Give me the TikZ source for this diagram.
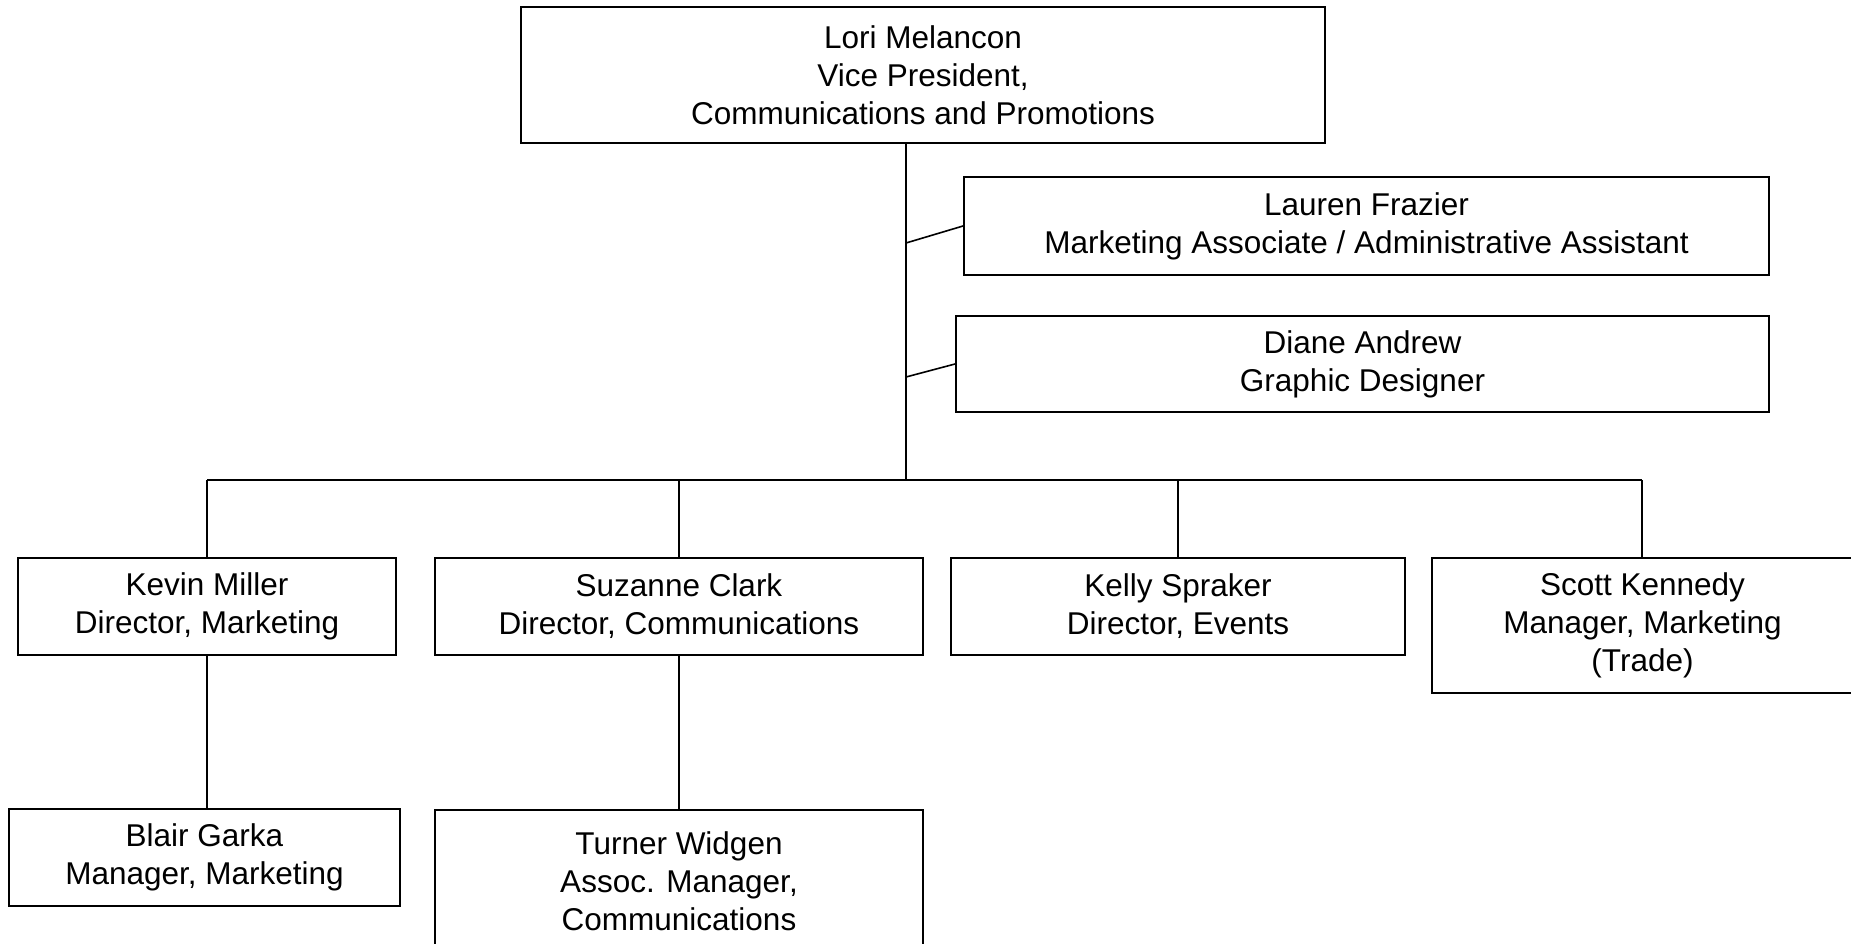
\documentclass[tikz,border=0pt]{standalone}
\usepackage{fontspec}
\setmainfont{Liberation Sans}
\begin{document}
\begin{tikzpicture}[x=1pt,y=-1pt,
  person/.style={draw=black, line width=2pt, rectangle, inner sep=0pt, align=center,
    font=\fontsize{31.5}{38}\selectfont, text=black},
  link/.style={draw=black, line width=1.6pt}]
\useasboundingbox (0,0) rectangle (1851,944);
% boxes
\node[person, minimum width=804pt, minimum height=136pt] (lori) at (923,75) {Lori Melancon\\Vice President,\\Communications and Promotions};
\node[person, minimum width=805pt, minimum height=97pt] (lauren) at (1366.5,226) {Lauren Frazier\\Marketing Associate / Administrative Assistant};
\node[person, minimum width=813pt, minimum height=96pt] (diane) at (1362.5,364) {Diane Andrew\\Graphic Designer};
\node[person, minimum width=378pt, minimum height=97pt] (kevin) at (207,606.5) {Kevin Miller\\Director, Marketing};
\node[person, minimum width=488pt, minimum height=97pt] (suzanne) at (679,606.5) {Suzanne Clark\\Director, Communications};
\node[person, minimum width=454pt, minimum height=97pt] (kelly) at (1178,606.5) {Kelly Spraker\\Director, Events};
\node[person, minimum width=421pt, minimum height=135pt] (scott) at (1642.5,625.5) {Scott Kennedy\\Manager, Marketing\\(Trade)};
\node[person, minimum width=391pt, minimum height=97pt] (blair) at (204.5,857.5) {Blair Garka\\Manager, Marketing};
\node[person, minimum width=488pt, minimum height=142pt] (turner) at (679,881) {Turner Widgen\\Assoc. Manager,\\Communications};
% connector points
\coordinate (hub) at (906,480);
\coordinate (busL) at (207,480);
\coordinate (busR) at (1642,480);
\coordinate (j1) at (906,243);
\coordinate (j2) at (906,377);
% connectors
\draw[link] (lori.south -| hub) -- (hub);
\draw[link] (busL) -- (busR);
\draw[link] (j1) -- (lauren.west);
\draw[link] (j2) -- (diane.west);
\draw[link] (busL) -- (kevin.north);
\draw[link] (suzanne.north |- hub) -- (suzanne.north);
\draw[link] (kelly.north |- hub) -- (kelly.north);
\draw[link] (busR) -- (busR |- scott.north);
\draw[link] (kevin.south) -- (kevin.south |- blair.north);
\draw[link] (suzanne.south) -- (turner.north);
\end{tikzpicture}
\end{document}
